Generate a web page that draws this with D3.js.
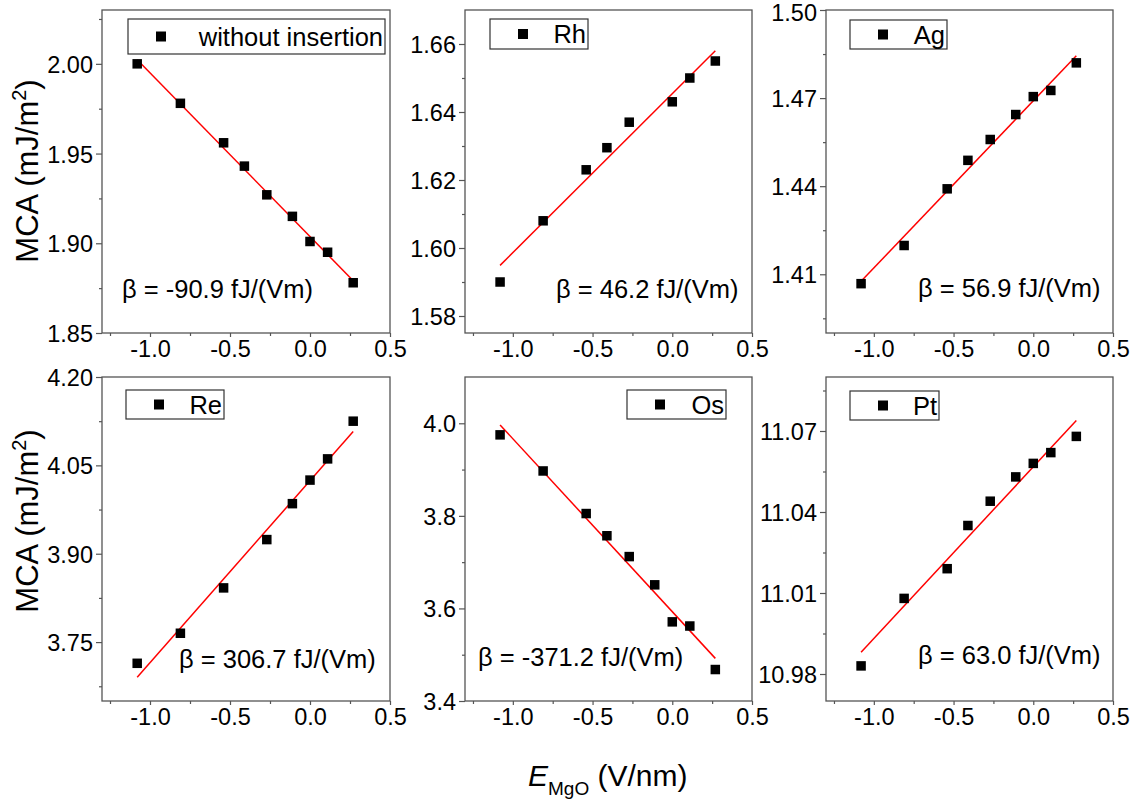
<!DOCTYPE html>
<html>
<head>
<meta charset="utf-8">
<script src="https://cdn.jsdelivr.net/npm/d3@7/dist/d3.min.js"></script>
<style>
body { margin: 0; background: #fff; }
text { font-family: Arial, "Liberation Sans", sans-serif; fill: #000; }
</style>
</head>
<body>
<svg id="chart" width="1137" height="805"></svg>
<script>
// E field in MgO (V/nm), shared by all panels
var fieldVals = [-1.08, -0.81, -0.54, -0.41, -0.27, -0.11, 0, 0.11, 0.27];

// MCA values (mJ/m^2), null where the point is missing
var noInsertion = [2.000, 1.978, 1.956, 1.943, 1.927, 1.915, 1.901, 1.895, 1.878];
var rhVals = [1.590, 1.608, 1.623, 1.6295, 1.637, null, 1.643, 1.650, 1.655];
var agVals = [1.4068, 1.4198, 1.4391, 1.4488, 1.4559, 1.4644, 1.4705, 1.4726, 1.4820];
var reVals = [3.714, 3.765, 3.842, null, 3.924, 3.985, 4.025, 4.061, 4.125];
var osVals = [3.975, 3.897, 3.805, 3.757, 3.712, 3.651, 3.571, 3.562, 3.468];
var ptVals = [10.983, 11.008, 11.019, 11.035, 11.044, 11.053, 11.058, 11.062, 11.068];

var seriesNames = ["without insertion", "Rh", "Ag", "Re", "Os", "Pt"];
var betaLabels = ["\u03b2 = -90.9 fJ/(Vm)", "\u03b2 = 46.2 fJ/(Vm)", "\u03b2 = 56.9 fJ/(Vm)",
                  "\u03b2 = 306.7 fJ/(Vm)", "\u03b2 = -371.2 fJ/(Vm)", "\u03b2 = 63.0 fJ/(Vm)"];

var xDomain = [-1.3, 0.5];
var xMajor = [-1.0, -0.5, 0.0, 0.5];
var xMinor = [-1.25, -0.75, -0.25, 0.25];

var yDomains = [[1.85, 2.03], [1.575, 1.67], [1.39, 1.50], [3.65, 4.20], [3.4, 4.1], [10.97, 11.09]];
var yMajor = [[1.85, 1.90, 1.95, 2.00], [1.58, 1.60, 1.62, 1.64, 1.66], [1.41, 1.44, 1.47, 1.50],
              [3.75, 3.90, 4.05, 4.20], [3.4, 3.6, 3.8, 4.0], [10.98, 11.01, 11.04, 11.07]];
var yMinor = [[1.875, 1.925, 1.975, 2.025], [1.59, 1.61, 1.63, 1.65], [1.395, 1.425, 1.455, 1.485],
              [3.675, 3.825, 3.975, 4.125], [3.5, 3.7, 3.9], [10.995, 11.025, 11.055, 11.085]];
var yFormats = [".2f", ".2f", ".2f", ".2f", ".1f", ".2f"];

var allSeries = [noInsertion, rhVals, agVals, reVals, osVals, ptVals];

// layout
var cols = [[102, 390], [465, 752], [826, 1113]];
var rows = [[10, 333], [377, 701]];
// legend box: left, top, width, height (relative to panel frame)
var legendBoxes = [[26, 9, 257, 35], [25, 9, 98, 30], [24, 10, 97, 29],
                   [24, 13, 98, 29], [162, 13, 99, 29], [24, 14, 89, 29]];
// beta label start x and baseline (relative to frame left / top)
var betaPos = [[20, 288], [91, 288], [92, 287], [77, 291], [13, 289], [92, 287]];

var svg = d3.select("#chart");
var axisColor = "#555";

function fmt(spec) {
    var f = d3.format(spec);
    return function(d) { return f(d).replace("\u2212", "-"); };
}

function fitLine(xs, ys) {
    var pts = [];
    for (var i = 0; i < xs.length; i++) {
        if (ys[i] != null) pts.push([xs[i], ys[i]]);
    }
    var mx = d3.mean(pts, function(p) { return p[0]; });
    var my = d3.mean(pts, function(p) { return p[1]; });
    var sxy = 0, sxx = 0;
    pts.forEach(function(p) {
        sxy += (p[0] - mx) * (p[1] - my);
        sxx += (p[0] - mx) * (p[0] - mx);
    });
    var slope = sxy / sxx;
    var x0 = d3.min(pts, function(p) { return p[0]; });
    var x1 = d3.max(pts, function(p) { return p[0]; });
    return [[x0, my + slope * (x0 - mx)], [x1, my + slope * (x1 - mx)]];
}

function drawPanel(idx) {
    var c = cols[idx % 3];
    var r = rows[Math.floor(idx / 3)];
    var left = c[0], right = c[1], top = r[0], bottom = r[1];

    var x = d3.scaleLinear().domain(xDomain).range([left, right]);
    var y = d3.scaleLinear().domain(yDomains[idx]).range([bottom, top]);
    var g = svg.append("g").attr("class", "panel");

    // axes
    var xa = g.append("g").attr("transform", "translate(0," + bottom + ")")
        .call(d3.axisBottom(x).tickValues(xMajor).tickSize(4).tickSizeOuter(0)
              .tickPadding(3).tickFormat(fmt(".1f")));
    var xm = g.append("g").attr("transform", "translate(0," + bottom + ")")
        .call(d3.axisBottom(x).tickValues(xMinor).tickSize(3).tickSizeOuter(0).tickFormat(""));
    var ya = g.append("g").attr("transform", "translate(" + left + ",0)")
        .call(d3.axisLeft(y).tickValues(yMajor[idx]).tickSize(6).tickSizeOuter(0)
              .tickPadding(3).tickFormat(fmt(yFormats[idx])));
    var ym = g.append("g").attr("transform", "translate(" + left + ",0)")
        .call(d3.axisLeft(y).tickValues(yMinor[idx]).tickSize(3).tickSizeOuter(0).tickFormat(""));
    [xa, xm, ya, ym].forEach(function(a) {
        a.select(".domain").remove();
        a.selectAll(".tick line").attr("stroke", axisColor).attr("stroke-width", 1.2);
        a.selectAll("text").style("font-size", "23.5px").attr("fill", "#000");
    });
    ya.selectAll("text").attr("dy", "0.36em")
        // keep a label at the very top edge inside the page
        .attr("y", function(d) { return Math.max(0, 12 - y(d)); });

    g.append("rect")
        .attr("x", left).attr("y", top)
        .attr("width", right - left).attr("height", bottom - top)
        .attr("fill", "none").attr("stroke", axisColor).attr("stroke-width", 1.3);

    // fit line
    var fl = fitLine(fieldVals, allSeries[idx]);
    g.append("line")
        .attr("x1", x(fl[0][0])).attr("y1", y(fl[0][1]))
        .attr("x2", x(fl[1][0])).attr("y2", y(fl[1][1]))
        .attr("stroke", "#ff0000").attr("stroke-width", 1.5);

    // points
    var pts = fieldVals.map(function(v, i) { return {x: v, y: allSeries[idx][i]}; })
        .filter(function(d) { return d.y != null; });
    var ms = 9.5;
    g.selectAll(".pt").data(pts).enter().append("rect")
        .attr("class", "pt")
        .attr("x", function(d) { return x(d.x) - ms / 2; })
        .attr("y", function(d) { return y(d.y) - ms / 2; })
        .attr("width", ms).attr("height", ms)
        .attr("fill", "#000");

    // legend
    var lb = legendBoxes[idx];
    var lx = left + lb[0], ly = top + lb[1];
    g.append("rect")
        .attr("x", lx).attr("y", ly).attr("width", lb[2]).attr("height", lb[3])
        .attr("fill", "#fff").attr("stroke", "#333").attr("stroke-width", 1.2);
    g.append("rect")
        .attr("x", lx + 28).attr("y", ly + lb[3] / 2 - 5)
        .attr("width", 10).attr("height", 10).attr("fill", "#000");
    g.append("text")
        .attr("x", lx + lb[2] - 2).attr("y", ly + lb[3] / 2 + 9)
        .attr("text-anchor", "end")
        .style("font-size", "25.5px")
        .text(seriesNames[idx]);

    // slope annotation
    g.append("text")
        .attr("x", left + betaPos[idx][0]).attr("y", top + betaPos[idx][1])
        .style("font-size", "25.5px")
        .text(betaLabels[idx]);
}

for (var i = 0; i < 6; i++) drawPanel(i);

// y axis titles
[[38, 171], [38, 521]].forEach(function(p) {
    var t = svg.append("text")
        .attr("transform", "translate(" + p[0] + "," + p[1] + ") rotate(-90)")
        .attr("text-anchor", "middle")
        .style("font-size", "31px");
    t.append("tspan").text("MCA (mJ/m");
    t.append("tspan").attr("dy", -12).style("font-size", "20px").text("2");
    t.append("tspan").attr("dy", 12).text(")");
});

// x axis title
var xt = svg.append("text").attr("x", 528).attr("y", 786).style("font-size", "30px");
xt.append("tspan").style("font-style", "italic").text("E");
xt.append("tspan").attr("dy", 9).style("font-size", "19px").text("MgO");
xt.append("tspan").attr("dy", -9).text(" (V/nm)");
</script>
</body>
</html>
